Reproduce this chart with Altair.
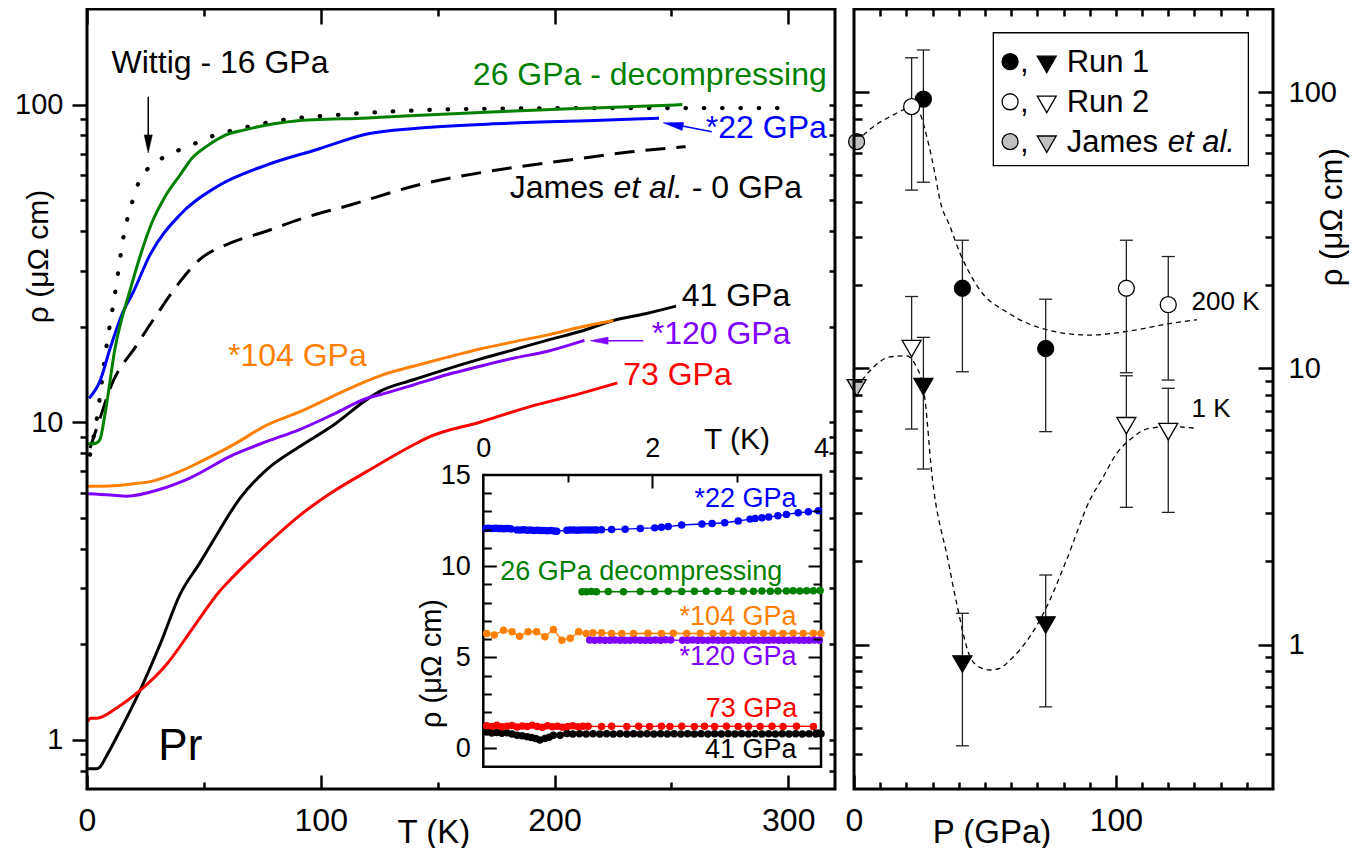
import altair as alt
import pandas as pd

# ---------------- Main panel: rho (uOhm cm) vs T (K) ----------------
wittig_T = [1.3, 4.3, 8.4, 12.3, 15.8, 19.8, 22.4, 28.1, 35.8, 43.7, 51.7, 67.2, 83.4, 107.6, 139.7, 180, 220, 260, 296]
wittig_rho = [7.9, 10.4, 17.5, 26.3, 39.0, 50.6, 57.6, 64.6, 70.0, 74.0, 78.6, 84.6, 89.4, 92.9, 95.8, 97.2, 97.5, 97.5, 97.5]

green_T = [0.5, 2, 4, 5.5, 7.7, 12.0, 18.4, 27.7, 33.5, 39.8, 45.0, 51.3, 59.0, 67.0, 77.0, 88.4, 119.8, 142.6, 180, 220, 254.7]
green_rho = [8.55, 8.55, 8.6, 8.8, 10.6, 17.1, 26.0, 42.4, 51.5, 60.0, 67.9, 74.0, 80.0, 83.1, 86.3, 88.7, 90.8, 92.6, 95.3, 97.8, 100.0]

blue_T = [0.9, 5.6, 9.9, 14.9, 19.8, 27.0, 39.8, 55.5, 77.0, 98.4, 119.8, 141.2, 180, 220, 244.7]
blue_rho = [11.9, 13.5, 17.1, 21.8, 25.7, 33.7, 45.0, 55.1, 64.6, 72.2, 80.8, 84.3, 87.3, 89.3, 90.6]

james_T = [1.3, 5.6, 9.9, 21.3, 29.8, 39.8, 48.4, 61.2, 77.0, 91.2, 112.6, 141.2, 176.9, 205.4, 234.0, 256.1]
james_rho = [8.3, 10.3, 12.8, 17.5, 21.8, 27.7, 32.6, 36.6, 40.0, 43.6, 48.3, 55.7, 62.5, 66.8, 71.2, 73.7]

k41_T = [0.2, 2, 4, 5.5, 8, 12.7, 22.7, 31.3, 39.8, 48.4, 54.1, 65.5, 77, 91.2, 105.5, 119.8, 125.3, 139.6,
         153.9, 168.1, 182.4, 196.7, 210.9, 225.2, 239.4, 252.0]
k41_rho = [0.81, 0.81, 0.81, 0.82, 0.88, 1.02, 1.43, 2.0, 2.87, 3.62, 4.25, 5.77, 7.1, 8.4, 9.8, 11.8, 12.5, 13.6,
           14.7, 15.8, 16.9, 18.1, 19.3, 20.9, 22.0, 23.2]

r73_T = [0.2, 1.5, 4.2, 12.7, 22.7, 34.1, 45.5, 57.0, 62.7, 77.0, 91.2, 105.5, 119.8, 141.2, 146.7, 168.1, 189.5, 210.9, 226.9]
r73_rho = [1.14, 1.17, 1.17, 1.26, 1.43, 1.73, 2.26, 2.95, 3.27, 4.13, 5.1, 6.06, 7.0, 8.6, 9.0, 10.0, 11.2, 12.3, 13.3]

o104_T = [0.2, 10, 20, 27, 39.8, 48.4, 62.7, 77, 91.2, 105.5, 119.8, 125.3, 139.6, 153.9, 168.1, 182.4, 196.7, 210.9, 225.2]
o104_rho = [6.29, 6.3, 6.4, 6.5, 7.0, 7.5, 8.5, 9.8, 10.8, 12.1, 13.5, 14.0, 15.0, 16.0, 17.0, 17.9, 18.8, 19.9, 20.9]

p120_T = [0.2, 10, 17, 31.3, 44, 62.7, 77, 91.2, 105.5, 119.8, 125.3, 139.6, 153.9, 168.1, 182.4, 196.7, 212.8]
p120_rho = [5.95, 5.9, 5.85, 6.15, 6.67, 7.9, 8.7, 9.5, 10.6, 11.9, 12.2, 13.1, 14.1, 15.0, 15.9, 16.7, 18.1]

# ---------------- Inset: rho vs T (0-4 K) ----------------
in_b_T = [0.03, 0.06, 0.09, 0.12, 0.15, 0.18, 0.21, 0.24, 0.27, 0.30, 0.33,
          0.40, 0.44, 0.48, 0.52, 0.56, 0.60, 0.64, 0.68, 0.72, 0.76, 0.80, 0.84, 0.87,
          0.99, 1.03, 1.07, 1.11, 1.15, 1.19, 1.23, 1.27, 1.31, 1.34,
          1.40, 1.52, 1.68, 1.86, 2.03, 2.11, 2.19, 2.35, 2.59, 2.71, 2.86, 3.02, 3.16, 3.22, 3.30, 3.38,
          3.49, 3.59, 3.73, 3.85, 3.97]
in_b_v = [12.07, 12.08, 12.06, 12.07, 12.08, 12.06, 12.07, 12.05, 12.07, 12.06, 12.04,
          11.99, 11.98, 12.00, 11.97, 11.98, 11.96, 11.97, 11.95, 11.96, 11.94, 11.95, 11.93, 11.92,
          11.97, 11.98, 11.98, 11.97, 11.98, 11.99, 11.98, 11.98, 11.99, 11.98,
          12.00, 12.01, 12.03, 12.07, 12.10, 12.14, 12.17, 12.26, 12.31, 12.34, 12.38, 12.48, 12.58, 12.62, 12.65, 12.70,
          12.76, 12.84, 12.93, 12.98, 13.04]

in_g_T = [1.17, 1.22, 1.28, 1.34, 1.48, 1.66, 1.86, 2.03, 2.19, 2.35, 2.50, 2.64, 2.78, 2.94, 3.08, 3.20,
          3.30, 3.40, 3.49, 3.59, 3.67, 3.75, 3.83, 3.91, 3.99]
in_g_v = [8.60, 8.60, 8.61, 8.60, 8.61, 8.60, 8.61, 8.61, 8.62, 8.61, 8.62, 8.62, 8.63, 8.62, 8.63, 8.63,
          8.64, 8.63, 8.64, 8.64, 8.65, 8.64, 8.65, 8.65, 8.66]

in_o_T = [0.04, 0.13, 0.24, 0.34, 0.43, 0.53, 0.63, 0.73, 0.83, 0.93, 1.03, 1.13, 1.22, 1.30, 1.40, 1.52, 1.64,
          1.78, 1.95, 2.11, 2.25, 2.41, 2.57, 2.72, 2.84, 2.96, 3.08, 3.20, 3.32, 3.43, 3.55, 3.67, 3.79, 3.91, 4.00]
in_o_v = [6.31, 6.22, 6.49, 6.40, 6.16, 6.40, 6.40, 6.13, 6.53, 5.94, 6.04, 6.40, 6.31, 6.35, 6.35, 6.31, 6.31,
          6.31, 6.32, 6.31, 6.32, 6.31, 6.32, 6.31, 6.31, 6.32, 6.31, 6.32, 6.31, 6.32, 6.31, 6.32, 6.31, 6.32, 6.31]

in_p_T = [1.26, 1.32, 1.38, 1.44, 1.50, 1.56, 1.62, 1.68, 1.74, 1.80, 1.86, 1.92, 1.98, 2.04, 2.10, 2.16, 2.22,
          2.36, 2.42, 2.48, 2.54, 2.60, 2.66, 2.72, 2.78, 2.84, 2.90, 2.96, 3.02, 3.08, 3.14, 3.20, 3.26, 3.32,
          3.38, 3.44, 3.50, 3.56, 3.62, 3.68, 3.74, 3.80, 3.86, 3.92, 3.98]
in_p_v = [5.95, 5.94, 5.95, 5.93, 5.94, 5.95, 5.94, 5.93, 5.94, 5.95, 5.94, 5.93, 5.94, 5.95, 5.94, 5.96, 5.95,
          5.93, 5.94, 5.95, 5.94, 5.93, 5.94, 5.95, 5.94, 5.93, 5.94, 5.95, 5.94, 5.93, 5.94, 5.95, 5.94, 5.93,
          5.94, 5.95, 5.94, 5.93, 5.94, 5.95, 5.94, 5.93, 5.94, 5.95, 5.94]

in_r_T = [0.04, 0.10, 0.16, 0.22, 0.28, 0.34, 0.40, 0.46, 0.52, 0.58, 0.64, 0.70, 0.76, 0.82, 0.88, 0.94, 1.00,
          1.06, 1.12, 1.18, 1.24, 1.40, 1.52, 1.70, 1.84, 1.97, 2.11, 2.21, 2.35, 2.50, 2.62, 2.74, 2.88, 3.02,
          3.14, 3.28, 3.42, 3.55, 3.71, 3.91]
in_r_v = [1.24, 1.20, 1.27, 1.19, 1.22, 1.26, 1.18, 1.23, 1.20, 1.28, 1.21, 1.17, 1.24, 1.19, 1.22, 1.16, 1.21,
          1.25, 1.19, 1.22, 1.22, 1.20, 1.22, 1.21, 1.22, 1.21, 1.22, 1.20, 1.22, 1.21, 1.22, 1.21, 1.22, 1.21,
          1.22, 1.21, 1.22, 1.21, 1.22, 1.21]

in_k_T = [0.04, 0.10, 0.16, 0.22, 0.28, 0.34, 0.40, 0.46, 0.52, 0.57, 0.62, 0.67, 0.73, 0.78, 0.83, 0.91, 0.99,
          1.06, 1.14, 1.22, 1.30, 1.38, 1.46, 1.54, 1.62, 1.70, 1.78, 1.86, 1.94, 2.02, 2.10, 2.18, 2.26, 2.34,
          2.42, 2.50, 2.58, 2.66, 2.74, 2.82, 2.90, 2.98, 3.06, 3.14, 3.22, 3.30, 3.38, 3.46, 3.54, 3.62, 3.70,
          3.78, 3.86, 3.94, 4.00]
in_k_v = [0.90, 0.85, 0.88, 0.83, 0.86, 0.80, 0.73, 0.70, 0.64, 0.60, 0.55, 0.46, 0.55, 0.62, 0.73, 0.73, 0.82,
          0.80, 0.81, 0.80, 0.81, 0.80, 0.81, 0.80, 0.81, 0.80, 0.81, 0.80, 0.81, 0.80, 0.81, 0.80, 0.81, 0.80,
          0.81, 0.80, 0.81, 0.80, 0.81, 0.80, 0.81, 0.80, 0.81, 0.80, 0.81, 0.80, 0.81, 0.80, 0.81, 0.80, 0.81,
          0.80, 0.81, 0.80, 0.81]

# ---------------- Right panel: rho vs P ----------------
run1_c_P = [26.5, 41.4, 73.2]
run1_c_v = [94.4, 19.5, 11.8]
run1_c_lo = [47.2, 9.72, 5.90]
run1_c_hi = [142.1, 29.1, 17.8]
run1_t_P = [26.5, 41.4, 73.2]
run1_t_v = [8.58, 0.850, 1.177]
run1_t_lo = [4.32, 0.430, 0.595]
run1_t_hi = [12.95, 1.298, 1.786]

run2_c_P = [22.0, 104.0, 120.0]
run2_c_v = [88.6, 19.5, 17.0]
run2_c_lo = [44.2, 9.64, 9.07]
run2_c_hi = [133.2, 29.1, 25.4]
run2_t_P = [22.0, 104.0, 120.0]
run2_t_v = [11.8, 6.20, 5.90]
run2_t_lo = [6.03, 3.14, 3.01]
run2_t_hi = [18.2, 9.40, 8.47]

james_c_P = [1.0]
james_c_v = [66.2]
james_t_P = [1.0]
james_t_v = [8.5]

fit200_P = [1.0, 7.4, 13.7, 20.1, 23.3, 25.2, 28.4, 30.9, 32.8, 36.7, 40.5, 45.6, 48.1, 58.3, 73.6, 90.1, 104.1, 121.9, 130.9]
fit200_v = [66.2, 75.0, 81.5, 87.4, 89.8, 83.8, 65.3, 50.8, 40.7, 32.6, 26.1, 20.9, 19.2, 16.0, 13.8, 13.2, 13.6, 14.6, 15.0]
fit1_P = [1.0, 7.4, 13.7, 20.1, 23.9, 25.8, 27.1, 29.7, 35.9, 39.2, 44.3, 48.1, 51.9, 55.7, 59.6, 67.2, 73.6, 81.2,
          90.1, 95.2, 100.3, 105.2, 112.9, 120.5, 130.9]
fit1_v = [8.5, 10.1, 11.0, 11.1, 10.1, 9.07, 7.7, 4.17, 2.02, 1.41, 0.904, 0.827, 0.809, 0.82, 0.879, 1.07, 1.37,
          2.03, 3.34, 4.05, 4.92, 5.5, 6.07, 6.15, 6.07]

# ---------------- colours ----------------
C_GREEN, C_BLUE, C_RED = '#008000', '#0000ff', '#ff0000'
C_ORANGE, C_PURPLE, C_GRAY = '#ff8000', '#8000ff', '#c0c0c0'

# ---------------- scales (pixel ranges inside one plot area) ----------------
LX = alt.Scale(domain=[0, 320], range=[0, 748], nice=False, zero=False)
LY = alt.Scale(type='log', domain=[0.7, 200], range=[780, 0], nice=False)
RX = alt.Scale(domain=[0, 160], range=[767, 1186], nice=False, zero=False)
RY = alt.Scale(type='log', domain=[0.3, 200], range=[780, 0], nice=False)
IX = alt.Scale(domain=[0, 4], range=[396.3, 734], nice=False, zero=False)
IY = alt.Scale(domain=[-1, 15], range=[757.7, 466], nice=False, zero=False)


def enc(xs, ys, xf='x', yf='y'):
    return dict(x=alt.X(f'{xf}:Q', scale=xs, axis=None), y=alt.Y(f'{yf}:Q', scale=ys, axis=None))


def line(xv, yv, xs, ys, color, width=3, **kw):
    df = pd.DataFrame({'x': xv, 'y': yv})
    return alt.Chart(df).mark_line(color=color, strokeWidth=width, **kw).encode(**enc(xs, ys))


def pts(xv, yv, xs, ys, shape, size, fill, stroke, sw=1.3, **kw):
    df = pd.DataFrame({'x': xv, 'y': yv})
    return alt.Chart(df).mark_point(shape=shape, size=size, filled=True, fill=fill, stroke=stroke,
                                    strokeWidth=sw, opacity=1, **kw).encode(**enc(xs, ys))


def text(x, y, t, xs, ys, size, color='black', align='left', style='normal'):
    df = pd.DataFrame({'x': [x], 'y': [y], 't': [t]})
    return alt.Chart(df).mark_text(align=align, baseline='alphabetic', fontSize=size, color=color,
                                   fontStyle=style).encode(text='t:N', **enc(xs, ys))


def rule(x1, y1, x2, y2, xs, ys, color, width=1.5):
    df = pd.DataFrame({'x': [x1], 'y': [y1], 'x2': [x2], 'y2': [y2]})
    return alt.Chart(df).mark_rule(color=color, strokeWidth=width).encode(x2='x2:Q', y2='y2:Q', **enc(xs, ys))


def frame(x1, x2, y1, y2, xs, ys, width, fill=None):
    df = pd.DataFrame({'x': [x1], 'x2': [x2], 'y': [y1], 'y2': [y2]})
    kw = dict(stroke='black', strokeWidth=width)
    if fill:
        kw['fill'] = fill
    else:
        kw['fillOpacity'] = 0
    return alt.Chart(df).mark_rect(**kw).encode(x2='x2:Q', y2='y2:Q', **enc(xs, ys))


def errbars(P, lo, hi):
    df = pd.DataFrame({'x': P, 'lo': lo, 'hi': hi})
    xe = alt.X('x:Q', scale=RX, axis=None)
    bar = alt.Chart(df).mark_rule(color='#222222', strokeWidth=1.3).encode(
        x=xe, y=alt.Y('lo:Q', scale=RY, axis=None), y2='hi:Q')
    c1 = alt.Chart(df).mark_point(shape='stroke', size=169, color='#222222', strokeWidth=1.3, opacity=1).encode(
        x=xe, y=alt.Y('lo:Q', scale=RY, axis=None))
    c2 = alt.Chart(df).mark_point(shape='stroke', size=169, color='#222222', strokeWidth=1.3, opacity=1).encode(
        x=xe, y=alt.Y('hi:Q', scale=RY, axis=None))
    return [bar, c1, c2]


def axis(orient, values, offset, tick, width=2.5, **kw):
    d = dict(orient=orient, values=values, offset=offset, domain=False, grid=False, tickColor='black',
             tickWidth=width, zindex=1, labelFlush=False, labelOverlap=False, labelColor='black',
             labels=False, title=None, format='d')
    if tick > 0:
        d.update(ticks=True, tickSize=tick)
    else:
        d.update(ticks=False, tickSize=0)
    d.update(kw)
    return alt.Axis(**d)


def axlayer(xs, ys, xv, yv, xaxis=None, yaxis=None):
    df = pd.DataFrame({'x': [xv], 'y': [yv]})
    return alt.Chart(df).mark_point(opacity=0).encode(
        x=alt.X('x:Q', scale=xs, axis=xaxis), y=alt.Y('y:Q', scale=ys, axis=yaxis))


RHO = 'ρ (μΩ cm)'
TT = dict(titleFontWeight='normal', titleColor='black', titleAlign='center', titleBaseline='middle')

layers = []

# ---- main panel curves ----
layers.append(line(james_T, james_rho, LX, LY, 'black', 3, strokeDash=[20, 11], interpolate='monotone'))
layers.append(line(wittig_T, wittig_rho, LX, LY, 'black', 4.2, strokeDash=[0.5, 17.8], strokeCap='round',
                   interpolate='monotone'))
layers.append(line(k41_T, k41_rho, LX, LY, 'black', interpolate='monotone'))
layers.append(line(r73_T, r73_rho, LX, LY, C_RED, interpolate='monotone'))
layers.append(line(p120_T, p120_rho, LX, LY, C_PURPLE, interpolate='monotone'))
layers.append(line(o104_T, o104_rho, LX, LY, C_ORANGE, interpolate='monotone'))
layers.append(line(blue_T, blue_rho, LX, LY, C_BLUE, interpolate='monotone'))
layers.append(line(green_T, green_rho, LX, LY, C_GREEN, interpolate='monotone'))

# arrows
layers.append(rule(26.2, 105.9, 26.2, 76, LX, LY, 'black', 1.5))
layers.append(pts([26.2], [75.2], LX, LY, 'M-0.45,-1L0.45,-1L0,1Z', 324, 'black', 'black', 0.5))
layers.append(rule(267.3, 82.2, 252.5, 86.3, LX, LY, C_BLUE, 1.5))
layers.append(pts([250.7], [86.5], LX, LY, 'M1,-0.4L1,0.4L-1,0Z', 400, C_BLUE, C_BLUE, 0.5, angle=10.6))
layers.append(rule(238, 18.06, 221, 18.06, LX, LY, C_PURPLE, 1.5))
layers.append(pts([219.1], [18.06], LX, LY, 'M1,-0.4L1,0.4L-1,0Z', 324, C_PURPLE, C_PURPLE, 0.5))

# main panel labels
layers.append(text(56.9, 126.0, 'Wittig - 16 GPa', LX, LY, 32, 'black', 'center'))
layers.append(text(316.5, 115.3, '26 GPa - decompressing', LX, LY, 32, C_GREEN, 'right'))
layers.append(text(316.5, 78.3, '*22 GPa', LX, LY, 32, C_BLUE, 'right'))
layers.append(text(221.2, 50.7, 'James', LX, LY, 32, 'black', 'right'))
layers.append(text(240.1, 50.7, 'et al.', LX, LY, 32, 'black', 'center', 'italic'))
layers.append(text(258.7, 50.7, '- 0 GPa', LX, LY, 32, 'black', 'left'))
layers.append(text(254.4, 23.3, '41 GPa', LX, LY, 32, 'black', 'left'))
layers.append(text(241.6, 17.6, '*120 GPa', LX, LY, 32, C_PURPLE, 'left'))
layers.append(text(229.4, 13.1, '73 GPa', LX, LY, 32, C_RED, 'left'))
layers.append(text(60.3, 15.0, '*104 GPa', LX, LY, 32, C_ORANGE, 'left'))
layers.append(text(30.5, 0.864, 'Pr', LX, LY, 44, 'black', 'left'))

# ---- inset ----
layers.append(frame(0, 4, -1, 15, IX, IY, 2.5, 'white'))
for T, V, col in [(in_k_T, in_k_v, 'black'), (in_r_T, in_r_v, C_RED), (in_o_T, in_o_v, C_ORANGE),
                  (in_p_T, in_p_v, C_PURPLE), (in_g_T, in_g_v, C_GREEN), (in_b_T, in_b_v, C_BLUE)]:
    layers.append(line(T, V, IX, IY, col, 1.4))
    layers.append(pts(T, V, IX, IY, 'circle', 56, col, col, 0))
layers.append(text(3.71, 13.23, '*22 GPa', IX, IY, 27, C_BLUE, 'right'))
layers.append(text(0.2, 9.24, '26 GPa decompressing', IX, IY, 27, C_GREEN, 'left'))
layers.append(text(3.71, 6.77, '*104 GPa', IX, IY, 27, C_ORANGE, 'right'))
layers.append(text(3.71, 4.57, '*120 GPa', IX, IY, 27, C_PURPLE, 'right'))
layers.append(text(3.72, 1.74, '73 GPa', IX, IY, 27, C_RED, 'right'))
layers.append(text(3.71, -0.55, '41 GPa', IX, IY, 27, 'black', 'right'))

# ---- right panel ----
layers.append(line(fit200_P, fit200_v, RX, RY, 'black', 1.3, strokeDash=[5, 4], interpolate='monotone'))
layers.append(line(fit1_P, fit1_v, RX, RY, 'black', 1.3, strokeDash=[5, 4], interpolate='monotone'))
for P, lo, hi in [(run1_c_P, run1_c_lo, run1_c_hi), (run1_t_P, run1_t_lo, run1_t_hi),
                  (run2_c_P, run2_c_lo, run2_c_hi), (run2_t_P, run2_t_lo, run2_t_hi)]:
    layers += errbars(P, lo, hi)
layers.append(pts(run1_c_P, run1_c_v, RX, RY, 'circle', 256, 'black', 'black'))
layers.append(pts(run2_c_P, run2_c_v, RX, RY, 'circle', 256, 'white', 'black'))
layers.append(pts(james_c_P, james_c_v, RX, RY, 'circle', 256, C_GRAY, 'black'))
layers.append(pts(run1_t_P, run1_t_v, RX, RY, 'triangle-down', 360, 'black', 'black'))
layers.append(pts(run2_t_P, run2_t_v, RX, RY, 'triangle-down', 360, 'white', 'black'))
layers.append(pts(james_t_P, james_t_v, RX, RY, 'triangle-down', 360, C_GRAY, 'black'))
layers.append(text(128.9, 16.2, '200 K', RX, RY, 26))
layers.append(text(128.9, 6.68, '1 K', RX, RY, 26))

# legend
layers.append(frame(53.2, 150.6, 54.2, 164.1, RX, RY, 1.3, 'white'))
layers.append(pts([59.6], [128.9], RX, RY, 'circle', 256, 'black', 'black'))
layers.append(pts([59.6], [92.3], RX, RY, 'circle', 256, 'white', 'black'))
layers.append(pts([59.6], [66.2], RX, RY, 'circle', 256, C_GRAY, 'black'))
layers.append(pts([73.6], [126.0], RX, RY, 'triangle-down', 360, 'black', 'black'))
layers.append(pts([73.6], [90.3], RX, RY, 'triangle-down', 360, 'white', 'black'))
layers.append(pts([73.6], [64.8], RX, RY, 'triangle-down', 360, C_GRAY, 'black'))
for yb in [118.6, 85.0, 60.9]:
    layers.append(text(63.4, yb, ',', RX, RY, 31))
layers.append(text(81.2, 118.6, 'Run 1', RX, RY, 31))
layers.append(text(81.2, 85.0, 'Run 2', RX, RY, 31))
layers.append(text(81.2, 60.9, 'James', RX, RY, 31))
layers.append(text(119.8, 60.9, 'et al.', RX, RY, 31, style='italic'))

# ---- frames ----
layers.append(frame(0, 320, 0.7, 200, LX, LY, 3))
layers.append(frame(0, 160, 0.3, 200, RX, RY, 3))

# ---- axes ----
LYmin = [0.8, 0.9, 2, 3, 4, 5, 6, 7, 8, 9, 20, 30, 40, 50, 60, 70, 80, 90]
RYmin = [0.4, 0.5, 0.6, 0.7, 0.8, 0.9, 2, 3, 4, 5, 6, 7, 8, 9, 20, 30, 40, 50, 60, 70, 80, 90]
IYmin = [1, 2, 3, 4, 6, 7, 8, 9, 11, 12, 13, 14]

# left panel
layers.append(axlayer(
    LX, LY, 10, 1,
    axis('bottom', [0, 100, 200, 300], -14, 14, labels=True, labelFontSize=32, labelPadding=16,
         title='T (K)', titleFontSize=33, titleX=346.3, titleY=57, titleAngle=0, **TT),
    axis('left', [1, 10, 100], 0, 15, labels=True, labelFontSize=29, labelPadding=9,
         title=RHO, titleFontSize=30, titleX=-49, titleY=247, titleAngle=270, **TT)))
layers.append(axlayer(LX, LY, 10, 1, axis('bottom', [50, 150, 250], -7, 7), axis('left', LYmin, 0, 7)))
layers.append(axlayer(LX, LY, 10, 1, axis('top', [0, 100, 200, 300], -15, 15),
                      axis('right', [1, 10, 100] + LYmin, -444, 6)))
layers.append(axlayer(LX, LY, 10, 1, axis('top', [50, 150, 250], -7, 7), None))

# right panel
layers.append(axlayer(
    RX, RY, 10, 1,
    axis('bottom', [0, 100], -14, 14, labels=True, labelFontSize=32, labelPadding=16,
         title='P (GPa)', titleFontSize=33, titleX=904.5, titleY=57, titleAngle=0, **TT),
    axis('right', [1, 10, 100], 0, 0, labels=True, labelFontSize=29, labelPadding=15,
         title=RHO, titleFontSize=31, titleX=59.6, titleY=207.7, titleAngle=270, **TT)))
layers.append(axlayer(RX, RY, 10, 1,
                      axis('bottom', [10, 20, 30, 40, 50, 60, 70, 80, 90, 110, 120, 130, 140, 150], -7, 7),
                      axis('left', [1, 10, 100], -782, 15)))
layers.append(axlayer(RX, RY, 10, 1,
                      axis('top', [10, 20, 30, 40, 50, 60, 70, 80, 90, 100, 110, 120, 130, 140, 150], -7, 7),
                      axis('left', RYmin, -775, 8)))
layers.append(axlayer(RX, RY, 10, 1, None, axis('right', [1, 10, 100], -15, 15)))
layers.append(axlayer(RX, RY, 10, 1, None, axis('right', RYmin, -8, 8)))

# inset
layers.append(axlayer(
    IX, IY, 1, 1,
    axis('top', [0, 2, 4], -466, 0, labels=True, labelFontSize=27, labelPadding=12.6,
         title='T (K)', titleFontSize=30, titleX=649.5, titleY=-36, titleAngle=0, **TT),
    axis('left', [0, 5, 10, 15], -396.3, 0, labels=True, labelFontSize=27, labelPadding=13,
         title=RHO, titleFontSize=29, titleX=-52, titleY=654, titleAngle=270, **TT)))
layers.append(axlayer(IX, IY, 1, 1, axis('top', [2], -479, 13, 2), axis('left', [0, 5, 10], -409.3, 13, 2)))
layers.append(axlayer(IX, IY, 1, 1, axis('top', [1, 3], -473, 7, 2), axis('left', IYmin, -404.3, 8, 2)))
layers.append(axlayer(IX, IY, 1, 1, None, axis('right', [0, 5, 10], -465, 13, 2)))
layers.append(axlayer(IX, IY, 1, 1, None, axis('right', IYmin, -460, 8, 2)))

chart = alt.layer(*layers).resolve_scale(x='independent', y='independent').properties(
    width=1186, height=780,
    padding={'left': 79, 'top': 1, 'right': 90, 'bottom': 59},
    autosize=alt.AutoSizeParams(type='none'),
).configure(font='Liberation Sans').configure_view(strokeWidth=0)

chart.save('out.html', embed_options={'renderer': 'svg', 'actions': False})
